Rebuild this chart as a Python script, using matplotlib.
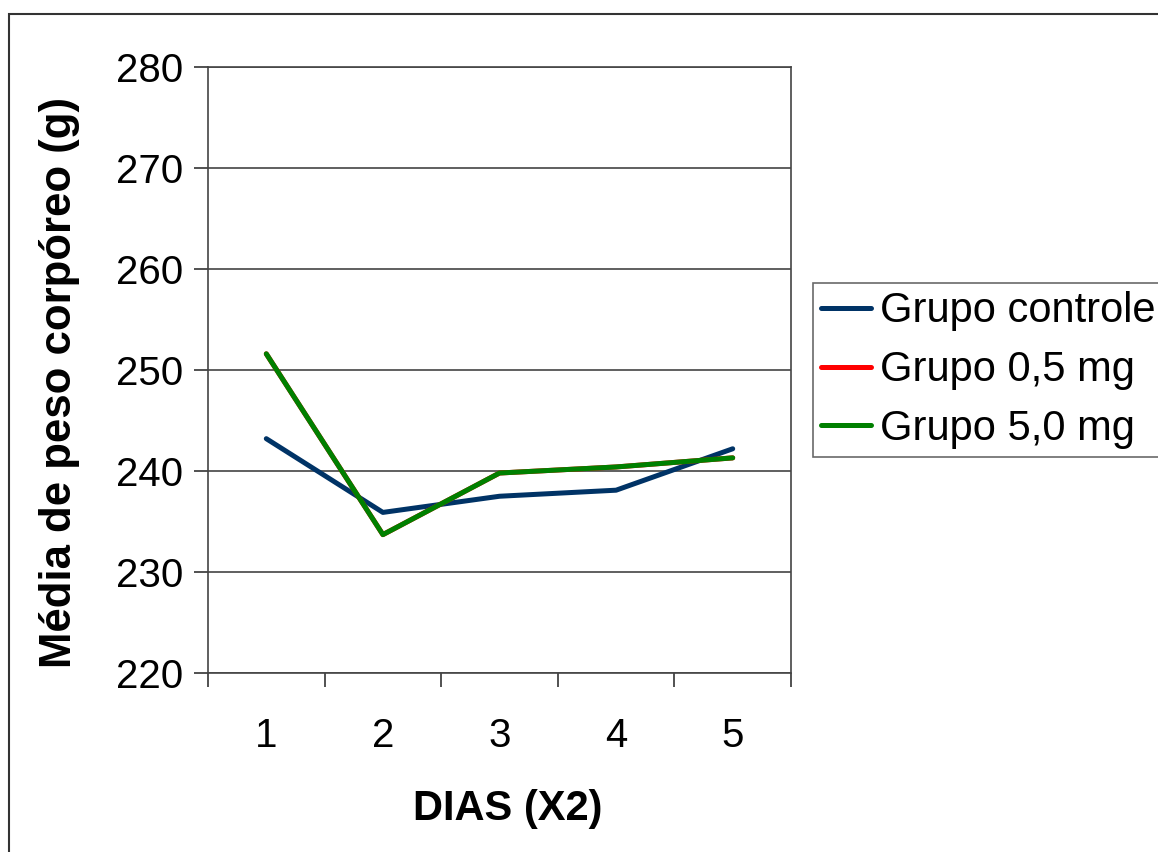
import matplotlib.pyplot as plt
from matplotlib.patches import Rectangle

plt.rcParams['font.family'] = ['Liberation Sans', 'DejaVu Sans']

dias = ['1', '2', '3', '4', '5']
controle = [243.2, 235.9, 237.5, 238.1, 242.2]
grupo_05 = [251.6, 233.7, 239.8, 240.4, 241.3]
grupo_50 = [251.6, 233.7, 239.8, 240.4, 241.3]

fig = plt.figure(figsize=(11.58, 8.52), dpi=100)
ax = fig.add_axes([208 / 1158, 1 - 673 / 852, 583 / 1158, 606 / 852])

x = range(len(dias))
ax.plot(x, controle, color='#003366', lw=3.6, label='Grupo controle', solid_capstyle='round')
ax.plot(x, grupo_05, color='#ff0000', lw=3.6, label='Grupo 0,5 mg', solid_capstyle='round')
ax.plot(x, grupo_50, color='#008000', lw=3.6, label='Grupo 5,0 mg', solid_capstyle='round')

ax.set_xlim(-0.5, len(dias) - 0.5)
ax.set_ylim(220, 280)
ax.set_yticks(range(220, 281, 10))
ax.set_xticks([i - 0.5 for i in range(len(dias) + 1)], minor=False)
ax.set_xticklabels([])
ax.set_xticks(list(x), minor=True)
ax.set_xticklabels(dias, minor=True)
ax.tick_params(axis='x', which='minor', length=0, labelsize=29, pad=32)
ax.tick_params(axis='x', which='major', direction='out', length=10, width=1.2, color='#333333')
ax.tick_params(axis='y', direction='out', length=10, width=1.2, color='#333333', labelsize=29, pad=8)
ax.grid(axis='y', color='#444444', lw=1.2)
ax.set_axisbelow(True)
for s in ax.spines.values():
    s.set_color('#444444')
    s.set_linewidth(1.2)

ax.set_xlabel('DIAS (X2)', fontsize=30, fontweight='bold', labelpad=24)
ax.xaxis.label.set_x(0.514)
ax.set_ylabel('Média de peso corpóreo (g)', fontsize=31.5, fontweight='bold', labelpad=26)
ax.yaxis.label.set_y(0.48)

leg = fig.legend(loc='upper left', bbox_to_anchor=(813 / 1158, 1 - 283 / 852),
                 fontsize=30, frameon=True, fancybox=False, handlelength=1.2,
                 handletextpad=0.2, borderpad=0.2, labelspacing=0.45, borderaxespad=0)
leg.get_frame().set_edgecolor('#444444')
leg.get_frame().set_linewidth(1.2)

fig.patches.append(Rectangle((9 / 1158, -0.1), 1.2, 1.1 - 13.5 / 852, transform=fig.transFigure,
                             fill=False, edgecolor='#333333', lw=1.5))

fig.savefig('out.png', dpi=100)
